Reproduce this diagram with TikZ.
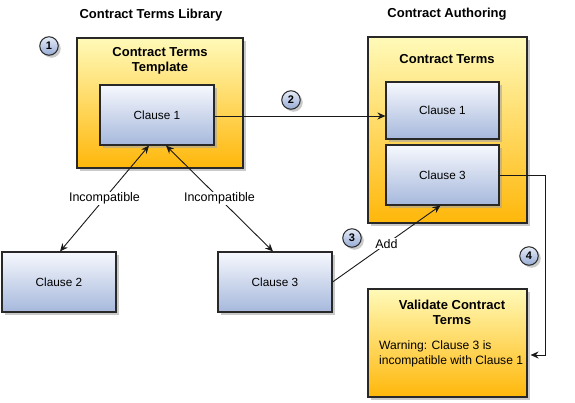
\documentclass[tikz,border=0pt]{standalone}
\usepackage{fontspec}
\setmainfont{Liberation Sans}
\usetikzlibrary{shadows,arrows.meta,calc}
\definecolor{ytop}{RGB}{255,250,185}
\definecolor{ybot}{RGB}{255,183,10}
\definecolor{btop}{RGB}{246,248,253}
\definecolor{bbot}{RGB}{166,184,220}
\definecolor{ctop}{RGB}{230,236,248}
\definecolor{cbot}{RGB}{150,170,212}
\definecolor{edge}{RGB}{40,40,40}
\tikzset{
  shad/.style={drop shadow={shadow xshift=2.5pt,shadow yshift=-2.5pt,fill=black!35,opacity=0.6}},
  ybox/.style={draw=edge,line width=1.1pt,top color=ytop,bottom color=ybot,shad,inner sep=0pt},
  clause/.style={draw=edge,line width=1.1pt,top color=btop,bottom color=bbot,shad,
    minimum width=114pt,minimum height=60pt,inner sep=0pt,font=\fontsize{11.8}{13}\selectfont},
  stepnum/.style={circle,draw=edge,line width=1pt,top color=ctop,bottom color=cbot,shad,
    minimum size=18.5pt,inner sep=0pt,font=\bfseries\fontsize{11}{12}\selectfont},
  ttl/.style={font=\bfseries\fontsize{13}{16}\selectfont,align=center},
  lbl/.style={font=\fontsize{12.5}{15}\selectfont,fill=white,inner sep=1pt},
  conn/.style={draw=black!90,line width=0.9pt},
  tip/.style={-{Stealth[length=8pt,width=7pt]}},
  tips/.style={{Stealth[length=8pt,width=7pt]}-{Stealth[length=8pt,width=7pt]}}
}
\begin{document}
\begin{tikzpicture}[x=1pt,y=-1pt]
\useasboundingbox (0,0) rectangle (575,402);
% titles
\node[ttl] (tlib) at (151,15) {Contract Terms Library};
\node[ttl] (tauth) at (447,14) {Contract Authoring};
% containers
\node[ybox,minimum width=166pt,minimum height=130pt] (tmpl) at (160,103) {};
\node[ttl] (tmplt) at (160,61) {Contract Terms\\[-1pt]Template};
\node[ybox,minimum width=159pt,minimum height=186pt] (ct) at (447.5,130) {};
\node[ttl] (ctt) at (447,59) {Contract Terms};
\node[ybox,minimum width=159pt,minimum height=108pt] (val) at (447.5,343) {};
\node[ttl] (valt) at (452,312) {Validate Contract\\[-1pt]Terms};
\node[font=\fontsize{12.1}{15}\selectfont,align=left,anchor=west,inner sep=0pt] (warn) at (379,353.5)
  {Warning: Clause 3 is\\incompatible with Clause 1};
% clauses
\node[clause] (c1t) at (157,115) {Clause 1};
\node[clause,minimum width=113pt,minimum height=57pt] (c1r) at (442.5,110.5) {Clause 1};
\node[clause,minimum width=113pt] (c3r) at (442.5,175) {Clause 3};
\node[clause] (c2) at (59,282) {Clause 2};
\node[clause] (c3b) at (275,282) {Clause 3};
% step circles
\node[stepnum] (s1) at (49,46) {1};
\node[stepnum] (s2) at (291,100) {2};
\node[stepnum] (s3) at (352,238) {3};
\node[stepnum] (s4) at (529,256) {4};
% connectors
\draw[conn,tip] (c1t.east |- 0,116) -- (c1r.west |- 0,116);
\draw[conn,tips] ([xshift=-8pt]c1t.south) -- node[lbl] {Incompatible} ([xshift=1pt]c2.north);
\draw[conn,tips] ([xshift=9pt]c1t.south) -- node[lbl] {Incompatible} ([xshift=-2pt]c3b.north);
\draw[conn,tip] (c3b.east) -- node[lbl,pos=0.5] {Add} ([xshift=-2pt]c3r.south);
\coordinate (corner) at (545,355);
\draw[conn,tip] (c3r.east) -| (corner) -- ([xshift=3pt]val.east |- corner);
\end{tikzpicture}
\end{document}
